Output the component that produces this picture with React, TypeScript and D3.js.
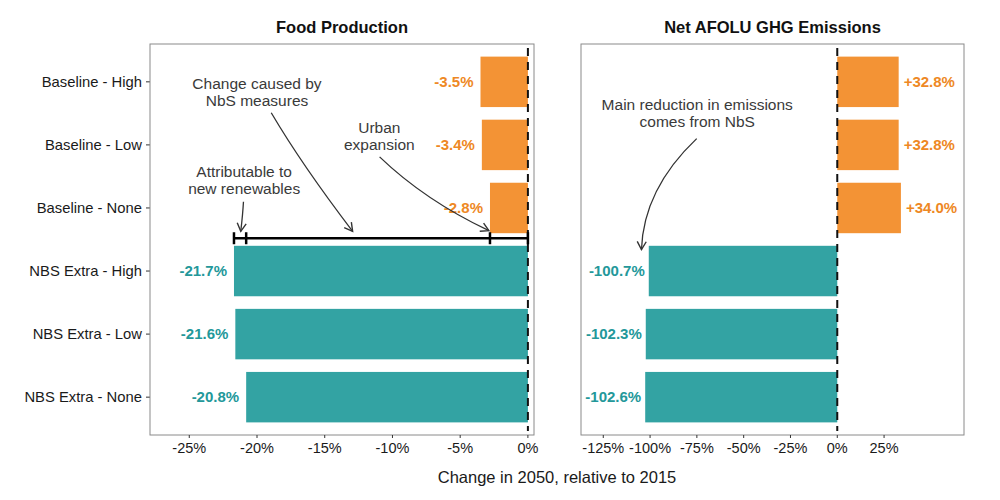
import React from 'react';
import * as d3 from 'd3';

// scenarios, top to bottom
const scenarios = [
  'Baseline - High',
  'Baseline - Low',
  'Baseline - None',
  'NBS Extra - High',
  'NBS Extra - Low',
  'NBS Extra - None',
];
const groups = ['Baseline', 'Baseline', 'Baseline', 'NBS', 'NBS', 'NBS'];

const foodValues = [-3.5, -3.4, -2.8, -21.7, -21.6, -20.8];
const emissionValues = [32.8, 32.8, 34.0, -100.7, -102.3, -102.6];

const foodTicks = [-25, -20, -15, -10, -5, 0];
const emissionTicks = [-125, -100, -75, -50, -25, 0, 25];

const panelTitles = ['Food Production', 'Net AFOLU GHG Emissions'];
const xTitle = 'Change in 2050, relative to 2015';

// bracket ticks on the food panel (x values)
const bracketStops = [-21.7, -20.8, -2.8, 0];

const barColor: Record<string, string> = { Baseline: '#F39335', NBS: '#33A3A3' };
const labelColor: Record<string, string> = { Baseline: '#EE8824', NBS: '#23989A' };

const FONT = '"Liberation Sans", Arial, Helvetica, sans-serif';
const TEXT_GREY = '#3a3a3a';

const top = 44;
const bottom = 435;

const App: React.FC = () => {
  const xFood = d3.scaleLinear().domain([-27.9, 0.45]).range([150, 534]);
  const xEm = d3.scaleLinear().domain([-136.9, 67.7]).range([581, 964]);
  // continuous y: category index with 0.6 expansion on both sides
  const y = d3.scaleLinear().domain([-0.6, scenarios.length - 0.4]).range([top, bottom]);
  const barHalf = 0.4;

  const fmt = (v: number, plus: boolean) =>
    (v > 0 && plus ? '+' : '') + v.toFixed(1) + '%';

  const curve = (x: (v: number) => number, p0: number[], c: number[], p1: number[]) =>
    `M${x(p0[0])},${y(p0[1])} Q${x(c[0])},${y(c[1])} ${x(p1[0])},${y(p1[1])}`;

  const panelFrame = (x: d3.ScaleLinear<number, number>) => {
    const [x0, x1] = x.range();
    return (
      <rect x={x0} y={top} width={x1 - x0} height={bottom - top} fill="none" stroke="#8a8a8a" strokeWidth={1} />
    );
  };

  const xAxis = (x: d3.ScaleLinear<number, number>, ticks: number[]) => (
    <g>
      {ticks.map((t) => (
        <g key={t}>
          <line x1={x(t)} x2={x(t)} y1={bottom} y2={bottom + 3} stroke="#333" strokeWidth={1} />
          <text x={x(t)} y={bottom + 18} textAnchor="middle" fontSize={14.5} fill="#1a1a1a" fontFamily={FONT}>
            {t + '%'}
          </text>
        </g>
      ))}
    </g>
  );

  const zeroLine = (x: d3.ScaleLinear<number, number>) => (
    <line x1={x(0)} x2={x(0)} y1={top + 4} y2={bottom - 4} stroke="#111" strokeWidth={2} strokeDasharray="8 6" />
  );

  const title = (x: d3.ScaleLinear<number, number>, t: string) => {
    const [x0, x1] = x.range();
    return (
      <text x={(x0 + x1) / 2} y={33} textAnchor="middle" fontSize={16.5} fontWeight="bold" fill="#111" fontFamily={FONT}>
        {t}
      </text>
    );
  };

  const multiline = (x: number, yc: number, lines: string[]) => (
    <text x={x} y={yc} textAnchor="middle" fontSize={15.5} fill={TEXT_GREY} fontFamily={FONT}>
      {lines.map((l, i) => (
        <tspan key={i} x={x} y={yc + (i - (lines.length - 1) / 2) * 16.8} dy="0.35em">
          {l}
        </tspan>
      ))}
    </text>
  );

  const bracketY = y(2.48);

  return (
    <svg width={1000} height={500} style={{ position: 'absolute', left: 0, top: 0, background: '#fff' }}>
      <defs>
        <marker id="head" markerUnits="userSpaceOnUse" markerWidth={14} markerHeight={14} refX={0} refY={0}
          viewBox="-10 -7 14 14" orient="auto">
          <path d="M-8,-4.5 L0,0 L-8,4.5" fill="none" stroke="#333" strokeWidth={1.4} />
        </marker>
      </defs>

      {/* Food production panel */}
      {title(xFood, panelTitles[0])}
      {scenarios.map((s, i) => {
        const v = foodValues[i];
        return (
          <g key={s}>
            <rect x={xFood(v)} y={y(i - barHalf)} width={xFood(0) - xFood(v)} height={y(i + barHalf) - y(i - barHalf)}
              fill={barColor[groups[i]]} />
            <text x={xFood(v) - 7} y={y(i)} dy="0.35em" textAnchor="end" fontSize={15} fontWeight="bold"
              fill={labelColor[groups[i]]} fontFamily={FONT}>
              {fmt(v, false)}
            </text>
            <line x1={146} x2={150} y1={y(i)} y2={y(i)} stroke="#333" strokeWidth={1} />
            <text x={142} y={y(i)} dy="0.35em" textAnchor="end" fontSize={14.8} fill="#1a1a1a" fontFamily={FONT}>
              {s}
            </text>
          </g>
        );
      })}
      {zeroLine(xFood)}
      {/* bracket */}
      <line x1={xFood(bracketStops[0])} x2={xFood(0)} y1={bracketY} y2={bracketY} stroke="#000" strokeWidth={2.5} />
      {bracketStops.map((b) => (
        <line key={b} x1={xFood(b)} x2={xFood(b)} y1={bracketY - 6} y2={bracketY + 6} stroke="#000" strokeWidth={2.5} />
      ))}
      {multiline(xFood(-20), y(0.16), ['Change caused by', 'NbS measures'])}
      {multiline(xFood(-10.97), y(0.86), ['Urban', 'expansion'])}
      {multiline(xFood(-20.95), y(1.56), ['Attributable to', 'new renewables'])}
      <path d={curve(xFood, [-18.95, 0.49], [-16.67, 1.32], [-12.94, 2.37])} fill="none" stroke="#333" strokeWidth={1.3} markerEnd="url(#head)" />
      <path d={curve(xFood, [-10.95, 1.19], [-7.6, 1.88], [-2.88, 2.36])} fill="none" stroke="#333" strokeWidth={1.3} markerEnd="url(#head)" />
      <path d={curve(xFood, [-21.0, 1.9], [-21.05, 2.1], [-21.2, 2.37])} fill="none" stroke="#333" strokeWidth={1.3} markerEnd="url(#head)" />
      {panelFrame(xFood)}
      {xAxis(xFood, foodTicks)}

      {/* Emissions panel */}
      {title(xEm, panelTitles[1])}
      {scenarios.map((s, i) => {
        const v = emissionValues[i];
        const x0 = Math.min(xEm(v), xEm(0));
        return (
          <g key={s}>
            <rect x={x0} y={y(i - barHalf)} width={Math.abs(xEm(v) - xEm(0))} height={y(i + barHalf) - y(i - barHalf)}
              fill={barColor[groups[i]]} />
            <text x={v < 0 ? xEm(v) - 4 : xEm(v) + 5} y={y(i)} dy="0.35em" textAnchor={v < 0 ? 'end' : 'start'}
              fontSize={15} fontWeight="bold" fill={labelColor[groups[i]]} fontFamily={FONT}>
              {fmt(v, true)}
            </text>
          </g>
        );
      })}
      {zeroLine(xEm)}
      {multiline(xEm(-74.8), y(0.49), ['Main reduction in emissions', 'comes from NbS'])}
      <path d={curve(xEm, [-75.1, 0.9], [-103.5, 1.7], [-104.6, 2.66])} fill="none" stroke="#333" strokeWidth={1.3} markerEnd="url(#head)" />
      {panelFrame(xEm)}
      {xAxis(xEm, emissionTicks)}

      <text x={(150 + 964) / 2} y={483} textAnchor="middle" fontSize={16.5} fill="#1a1a1a" fontFamily={FONT}>
        {xTitle}
      </text>
    </svg>
  );
};

export default App;
